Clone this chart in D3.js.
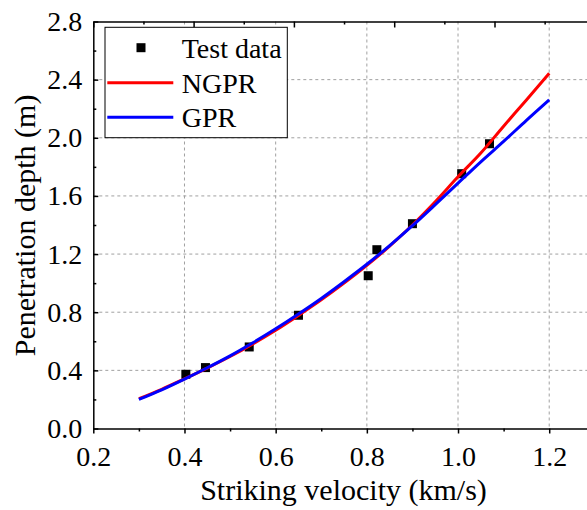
<!DOCTYPE html>
<html lang="en">
<head>
<meta charset="utf-8">
<title>Penetration depth vs striking velocity</title>
<script src="https://d3js.org/d3.v7.min.js"></script>
<style>
  body { margin: 0; background: white; }
</style>
</head>
<body>
<div id="chart"></div>
<script>
// ---- data ----
var testVelocity = [0.403, 0.446, 0.542, 0.650, 0.803, 0.822, 0.900, 1.008, 1.069];
var testDepth    = [0.373, 0.419, 0.561, 0.779, 1.051, 1.230, 1.409, 1.753, 1.959];

var curveVelocity = [0.30, 0.35, 0.40, 0.45, 0.50, 0.55, 0.60, 0.65, 0.70, 0.75,
                     0.80, 0.85, 0.90, 0.95, 1.00, 1.05, 1.10, 1.15, 1.20];
var ngprDepth = [0.205, 0.270, 0.342, 0.416, 0.495, 0.582, 0.676, 0.778, 0.885, 1.000,
                 1.122, 1.255, 1.400, 1.560, 1.732, 1.895, 2.080, 2.260, 2.444];
var gprDepth  = [0.200, 0.266, 0.340, 0.418, 0.500, 0.590, 0.686, 0.788, 0.895, 1.010,
                 1.130, 1.258, 1.395, 1.540, 1.688, 1.835, 1.975, 2.120, 2.261];

var xTicks = [0.2, 0.4, 0.6, 0.8, 1.0, 1.2];
var xMinor = [0.3, 0.5, 0.7, 0.9, 1.1];
var yTicks = [0.0, 0.4, 0.8, 1.2, 1.6, 2.0, 2.4, 2.8];
var yMinor = [0.2, 0.6, 1.0, 1.4, 1.8, 2.2, 2.6];
var topTicks = [0.2, 0.42, 0.64, 0.86, 1.08, 1.30];
var topMinor = [0.31, 0.53, 0.75, 0.97, 1.19];

var legendNames = ["Test data", "NGPR", "GPR"];
var seriesColors = ["black", "#ff0000", "#0000ff"];

// ---- layout ----
var width = 587, height = 510;
var plotLeft = 93.3, plotRight = 594.8, plotTop = 21.5, plotBottom = 428.5;
var serif = "'Liberation Serif', 'Times New Roman', serif";

var svg = d3.select("#chart").append("svg")
  .attr("width", width)
  .attr("height", height);

var x = d3.scaleLinear().domain([0.2, 1.3]).range([plotLeft, plotRight]);
var y = d3.scaleLinear().domain([0, 2.8]).range([plotBottom, plotTop]);

// grid lines
var grid = svg.append("g")
  .attr("stroke", "#a0a0a0")
  .attr("stroke-width", 1)
  .attr("stroke-dasharray", "3,3");
grid.selectAll("line.vx")
  .data(xTicks.slice(1))
  .enter().append("line")
  .attr("x1", function(d) { return x(d); })
  .attr("x2", function(d) { return x(d); })
  .attr("y1", plotTop).attr("y2", plotBottom);
grid.selectAll("line.hy")
  .data(yTicks.slice(1, -1))
  .enter().append("line")
  .attr("y1", function(d) { return y(d); })
  .attr("y2", function(d) { return y(d); })
  .attr("x1", plotLeft).attr("x2", plotRight);

// test data squares
var sq = 9;
svg.append("g").selectAll("rect")
  .data(testVelocity)
  .enter().append("rect")
  .attr("x", function(d) { return x(d) - sq / 2; })
  .attr("y", function(d, i) { return y(testDepth[i]) - sq / 2; })
  .attr("width", sq).attr("height", sq)
  .attr("fill", "black");

// model curves
var line = d3.line()
  .x(function(d) { return x(d[0]); })
  .y(function(d) { return y(d[1]); })
  .curve(d3.curveMonotoneX);

[ngprDepth, gprDepth].forEach(function(series, k) {
  svg.append("path")
    .datum(curveVelocity.map(function(v, i) { return [v, series[i]]; }))
    .attr("fill", "none")
    .attr("stroke", seriesColors[k + 1])
    .attr("stroke-width", 3)
    .attr("d", line);
});

// axes
function styleAxis(g) {
  g.attr("font-family", serif);
  g.select(".domain").attr("stroke", "black").attr("stroke-width", 1.5);
  g.selectAll(".tick line").attr("stroke", "black").attr("stroke-width", 1.5);
  g.selectAll("text")
    .style("font-family", serif)
    .style("font-size", "28px")
    .attr("fill", "black");
}

svg.append("g")
  .attr("transform", "translate(0," + plotBottom + ")")
  .call(d3.axisBottom(x).tickValues(xTicks).tickFormat(d3.format(".1f"))
    .tickSizeInner(5).tickSizeOuter(0).tickPadding(12.6))
  .call(styleAxis);
svg.append("g")
  .attr("transform", "translate(0," + plotBottom + ")")
  .call(d3.axisBottom(x).tickValues(xMinor).tickFormat("").tickSize(3))
  .call(styleAxis)
  .select(".domain").remove();

svg.append("g")
  .attr("transform", "translate(" + plotLeft + ",0)")
  .call(d3.axisLeft(y).tickValues(yTicks).tickFormat(d3.format(".1f"))
    .tickSizeInner(-5).tickSizeOuter(0).tickPadding(11))
  .call(styleAxis);
svg.append("g")
  .attr("transform", "translate(" + plotLeft + ",0)")
  .call(d3.axisLeft(y).tickValues(yMinor).tickFormat("").tickSize(-3))
  .call(styleAxis)
  .select(".domain").remove();

svg.append("g")
  .attr("transform", "translate(0," + plotTop + ")")
  .call(d3.axisTop(x).tickValues(topTicks).tickFormat("").tickSizeInner(-6).tickSizeOuter(0))
  .call(styleAxis);
svg.append("g")
  .attr("transform", "translate(0," + plotTop + ")")
  .call(d3.axisTop(x).tickValues(topMinor).tickFormat("").tickSize(-3))
  .call(styleAxis)
  .select(".domain").remove();

svg.append("line")
  .attr("x1", plotRight).attr("x2", plotRight).attr("y1", plotTop).attr("y2", plotBottom)
  .attr("stroke", "black").attr("stroke-width", 1.5);

// axis titles
svg.append("text")
  .attr("x", 343.5).attr("y", 500)
  .attr("text-anchor", "middle")
  .style("font-family", serif)
  .style("font-size", "30px")
  .text("Striking velocity (km/s)");

svg.append("text")
  .attr("transform", "translate(35,225.4) rotate(-90)")
  .attr("text-anchor", "middle")
  .style("font-family", serif)
  .style("font-size", "30px")
  .text("Penetration depth (m)");

// legend
var legend = svg.append("g");
legend.append("rect")
  .attr("x", 105).attr("y", 27.3)
  .attr("width", 182.3).attr("height", 110.4)
  .attr("fill", "white")
  .attr("stroke", "black").attr("stroke-width", 1);

var rowY = [47.7, 82.7, 117.3];
legendNames.forEach(function(name, i) {
  if (i === 0) {
    legend.append("rect")
      .attr("x", 141 - 4.5).attr("y", rowY[i] - 4.5)
      .attr("width", 9).attr("height", 9)
      .attr("fill", seriesColors[i]);
  } else {
    legend.append("line")
      .attr("x1", 107.3).attr("x2", 173.3)
      .attr("y1", rowY[i]).attr("y2", rowY[i])
      .attr("stroke", seriesColors[i]).attr("stroke-width", 3);
  }
  legend.append("text")
    .attr("x", 181.7).attr("y", rowY[i] + 10)
    .style("font-family", serif)
    .style("font-size", "28px")
    .text(name);
});
</script>
</body>
</html>
